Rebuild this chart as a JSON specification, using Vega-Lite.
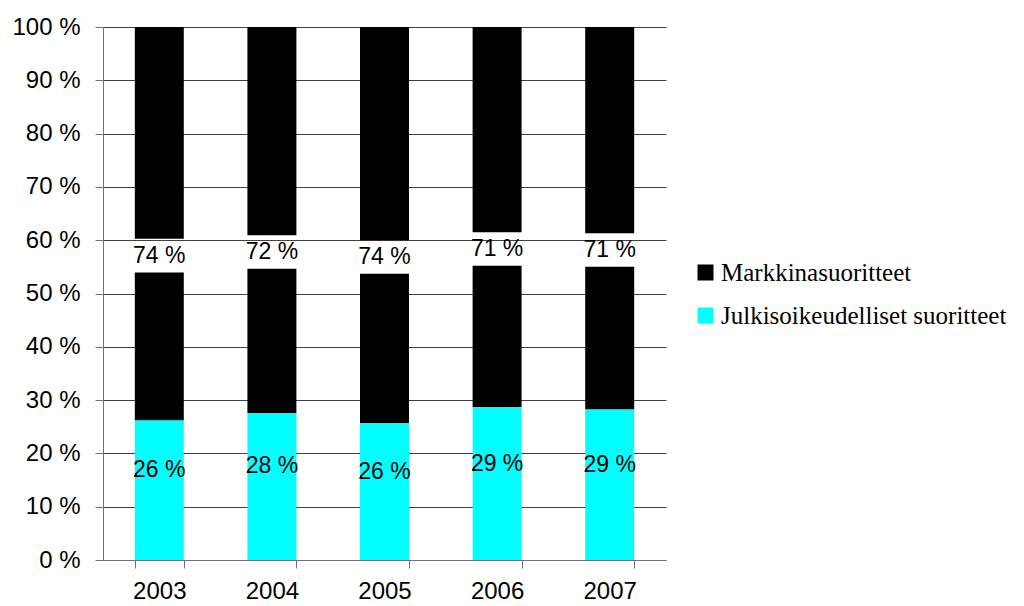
{
  "$schema": "https://vega.github.io/schema/vega-lite/v6.json",
  "width": 563,
  "height": 533,
  "autosize": {"type": "none"},
  "padding": {"left": 103, "top": 27, "right": 358, "bottom": 46},
  "background": "white",
  "config": {
    "view": {"stroke": null},
    "font": "Liberation Sans"
  },
  "data": {
    "values": [
      {"year": "2003", "j": 26.2, "m": 73.8, "jl": "26 %", "ml": "74 %"},
      {"year": "2004", "j": 27.6, "m": 72.4, "jl": "28 %", "ml": "72 %"},
      {"year": "2005", "j": 25.7, "m": 74.3, "jl": "26 %", "ml": "74 %"},
      {"year": "2006", "j": 28.7, "m": 71.3, "jl": "29 %", "ml": "71 %"},
      {"year": "2007", "j": 28.3, "m": 71.7, "jl": "29 %", "ml": "71 %"}
    ]
  },
  "transform": [
    {"calculate": "datum.j + datum.m / 2 - 6", "as": "c"},
    {"calculate": "datum.c - 3.15", "as": "lo"},
    {"calculate": "datum.c + 3.15", "as": "hi"},
    {"calculate": "datum.j + datum.m", "as": "top"},
    {"calculate": "datum.j / 2 + 3.75", "as": "cj"}
  ],
  "encoding": {
    "x": {
      "field": "year",
      "type": "nominal",
      "title": null,
      "scale": {"paddingInner": 0.565, "paddingOuter": 0.2825},
      "axis": {
        "labelAngle": 0,
        "labelFontSize": 24,
        "labelColor": "black",
        "labelPadding": 11,
        "tickBand": "extent",
        "tickSize": 8,
        "tickColor": "#707070",
        "domainColor": "#707070",
        "grid": false
      }
    }
  },
  "layer": [
    {
      "mark": {"type": "bar"},
      "encoding": {
        "y": {
          "field": "j",
          "type": "quantitative",
          "scale": {"domain": [0, 100], "nice": false},
          "title": null,
          "axis": {
            "values": [0, 10, 20, 30, 40, 50, 60, 70, 80, 90, 100],
            "labelExpr": "datum.value + ' %'",
            "labelFontSize": 24,
            "labelColor": "black",
            "labelPadding": 15,
            "tickSize": 8,
            "tickColor": "#707070",
            "domainColor": "#707070",
            "grid": true,
            "gridColor": "#404040",
            "gridWidth": 1
          }
        },
        "y2": {"datum": 0},
        "color": {
          "datum": "Julkisoikeudelliset suoritteet",
          "type": "nominal",
          "scale": {
            "domain": ["Markkinasuoritteet", "Julkisoikeudelliset suoritteet"],
            "range": ["#000000", "#00FFFF"]
          },
          "legend": {
            "title": null,
            "orient": "none",
            "legendX": 590,
            "legendY": 233,
            "symbolType": "square",
            "symbolSize": 256,
            "symbolStrokeWidth": 0,
            "labelFont": "Liberation Serif",
            "labelFontSize": 25,
            "labelColor": "black",
            "labelOffset": 3,
            "rowPadding": 17,
            "labelLimit": 400
          }
        }
      }
    },
    {
      "mark": {"type": "bar"},
      "encoding": {
        "y": {"field": "j", "type": "quantitative"},
        "y2": {"field": "lo"},
        "color": {"datum": "Markkinasuoritteet", "type": "nominal"}
      }
    },
    {
      "mark": {"type": "bar"},
      "encoding": {
        "y": {"field": "hi", "type": "quantitative"},
        "y2": {"field": "top"},
        "color": {"datum": "Markkinasuoritteet", "type": "nominal"}
      }
    },
    {
      "mark": {"type": "text", "fontSize": 23, "color": "black", "baseline": "middle"},
      "encoding": {
        "y": {"field": "c", "type": "quantitative"},
        "text": {"field": "ml"}
      }
    },
    {
      "mark": {"type": "text", "fontSize": 23, "color": "black", "baseline": "middle"},
      "encoding": {
        "y": {"field": "cj", "type": "quantitative"},
        "text": {"field": "jl"}
      }
    }
  ]
}
